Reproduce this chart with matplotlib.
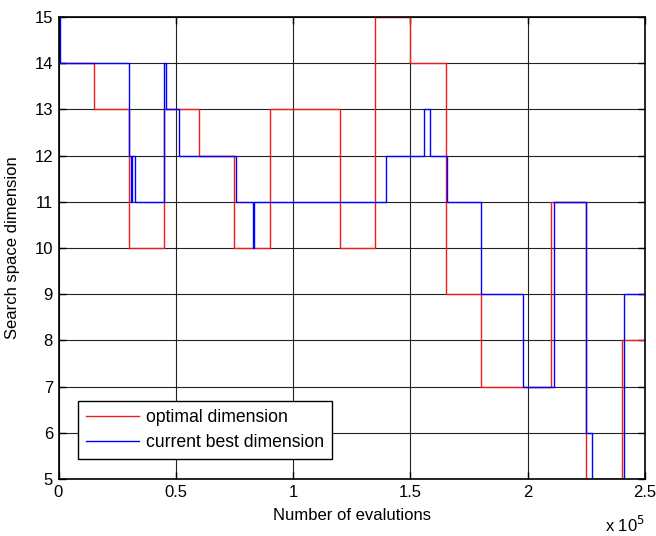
import numpy as np
import matplotlib
matplotlib.use("Agg")
import matplotlib.pyplot as plt

plt.rcParams['font.family'] = ['Liberation Sans', 'DejaVu Sans']

# optimal dimension (red), step changes every 15000 evaluations
opt_x = [0, 15000, 30000, 45000, 60000, 75000, 90000, 120000, 135000, 150000,
         165000, 180000, 210000, 225000, 240000, 250000]
opt_y = [14, 13, 10, 13, 12, 10, 13, 10, 15, 14, 9, 7, 11, 5, 8, 8]

# current best dimension (blue)
best_x = [0, 800, 30000, 30800, 31500, 32600, 44900, 45800, 51300, 75500,
          82900, 83500, 139500, 156000, 158500, 165500, 180000, 198000,
          211000, 225000, 227500, 241000, 250000]
best_y = [15, 14, 12, 11, 12, 11, 14, 13, 12, 11, 10, 11, 12, 13, 12, 11,
          9, 7, 11, 6, 5, 9, 9]

xticks = [0, 50000, 100000, 150000, 200000, 250000]
xticklabels = ["0", "0.5", "1", "1.5", "2", "2.5"]
yticks = list(range(5, 16))

fig = plt.figure(figsize=(6.56, 5.36), dpi=100)
ax = fig.add_axes([58.5/656, 1-479/536, (645-58.5)/656, (479-17)/536])

ax.step(opt_x, opt_y, where='post', color='#ee1c1c', lw=1.0, label='optimal dimension')
ax.step(best_x, best_y, where='post', color='blue', lw=1.0, label='current best dimension')

ax.set_xlim(0, 250000)
ax.set_ylim(5, 15)
ax.set_xticks(xticks)
ax.set_xticklabels(xticklabels)
ax.set_yticks(yticks)
ax.grid(True, color='#222222', lw=0.8, ls='-')
ax.set_axisbelow(True)
ax.tick_params(direction='in', top=True, right=True, length=5, labelsize=12, pad=4, width=1)
for s in ax.spines.values():
    s.set_linewidth(1.2)

ax.set_xlabel('Number of evalutions', fontsize=12, labelpad=6)
ax.set_ylabel('Search space dimension', fontsize=12, labelpad=10)
fig.text(645/656, 1-525/536, r'x 10$^5$', ha='right', va='center', fontsize=12)

leg = ax.legend(loc='lower left', bbox_to_anchor=(0.034, 0.044), borderaxespad=0,
                fontsize=12.7, handlelength=3.0, handletextpad=0.4, labelspacing=0.45,
                borderpad=0.45, fancybox=False, framealpha=1, edgecolor='black')
leg.get_frame().set_linewidth(1.0)

plt.savefig("out.png", dpi=100)
